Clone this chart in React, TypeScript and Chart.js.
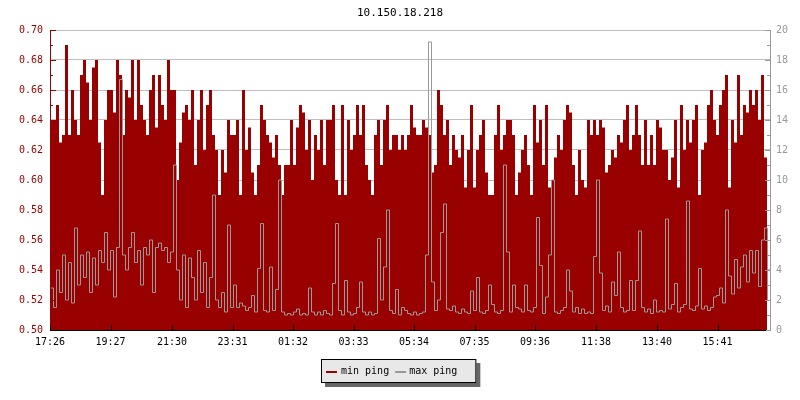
import React, { useEffect, useRef } from "react";
import { Chart, registerables } from "chart.js";

Chart.register(...registerables);

const TITLE = "10.150.18.218";
const SERIES_NAMES = ["min ping", "max ping"];
const SAMPLE_STEP_MIN = 6; // one reading every 6 minutes
const X_SPAN_MIN = 1440;

const xTickMinutes = [0, 121, 244, 365, 486, 607, 728, 849, 970, 1092, 1214, 1335];
const xTickLabels = ["17:26", "19:27", "21:30", "23:31", "01:32", "03:33", "05:34", "07:35", "09:36", "11:38", "13:40", "15:41"];

// min ping (left axis, seconds-ish units as shown)
const minPing = [
  0.64, 0.64, 0.65, 0.625, 0.63, 0.69, 0.63, 0.66, 0.64, 0.63,
  0.67, 0.68, 0.665, 0.64, 0.675, 0.68, 0.625, 0.59, 0.64, 0.66,
  0.66, 0.645, 0.68, 0.67, 0.63, 0.66, 0.655, 0.68, 0.64, 0.68,
  0.65, 0.64, 0.63, 0.66, 0.67, 0.635, 0.67, 0.65, 0.64, 0.68,
  0.66, 0.66, 0.60, 0.625, 0.645, 0.65, 0.64, 0.66, 0.61, 0.64,
  0.66, 0.62, 0.65, 0.66, 0.63, 0.62, 0.59, 0.62, 0.605, 0.64,
  0.63, 0.63, 0.64, 0.59, 0.66, 0.62, 0.635, 0.605, 0.59, 0.61,
  0.65, 0.64, 0.63, 0.625, 0.615, 0.63, 0.61, 0.59, 0.61, 0.61,
  0.64, 0.61, 0.635, 0.65, 0.645, 0.62, 0.64, 0.60, 0.63, 0.62,
  0.64, 0.61, 0.64, 0.64, 0.65, 0.60, 0.59, 0.65, 0.59, 0.64,
  0.62, 0.63, 0.65, 0.63, 0.65, 0.61, 0.60, 0.59, 0.63, 0.64,
  0.61, 0.64, 0.65, 0.62, 0.63, 0.63, 0.62, 0.63, 0.62, 0.63,
  0.65, 0.635, 0.63, 0.63, 0.64, 0.635, 0.63, 0.605, 0.61, 0.66,
  0.65, 0.63, 0.64, 0.61, 0.63, 0.62, 0.615, 0.63, 0.595, 0.62,
  0.65, 0.595, 0.62, 0.63, 0.64, 0.605, 0.59, 0.59, 0.63, 0.65,
  0.62, 0.63, 0.64, 0.64, 0.63, 0.59, 0.605, 0.62, 0.63, 0.61,
  0.59, 0.65, 0.625, 0.64, 0.61, 0.65, 0.595, 0.60, 0.615, 0.63,
  0.62, 0.64, 0.65, 0.645, 0.61, 0.59, 0.62, 0.60, 0.595, 0.64,
  0.63, 0.64, 0.63, 0.64, 0.635, 0.605, 0.61, 0.62, 0.615, 0.63,
  0.625, 0.64, 0.65, 0.62, 0.63, 0.65, 0.63, 0.61, 0.64, 0.61,
  0.63, 0.61, 0.64, 0.635, 0.62, 0.62, 0.60, 0.615, 0.64, 0.595,
  0.65, 0.62, 0.64, 0.625, 0.64, 0.65, 0.59, 0.62, 0.625, 0.65,
  0.66, 0.64, 0.63, 0.65, 0.66, 0.67, 0.595, 0.64, 0.625, 0.67,
  0.63, 0.65, 0.645, 0.66, 0.65, 0.66, 0.64, 0.67, 0.615, 0.62,
];

// max ping (right axis)
const maxPing = [
  2.8, 1.5, 4, 2.5, 5, 2, 4.5, 1.8, 6.8, 3,
  5, 3.5, 5.2, 2.5, 4.8, 3, 5.3, 4.5, 6.5, 4,
  5.3, 2.2, 5.5, 16.7, 5, 4, 5.5, 6.5, 4.5, 5.3,
  3, 5.5, 5, 6, 2.5, 5.5, 5.8, 5.3, 5.5, 4.5,
  5.2, 11, 4, 2, 5, 1.5, 4.8, 3.5, 2, 5.3,
  2.5, 4.5, 1.5, 3.5, 9, 2, 1.5, 2.5, 1.2, 7,
  1.5, 3, 1.5, 1.8, 1.6, 1.3, 1.5, 2.3, 1.2, 4.1,
  7.1, 1.3, 1.2, 4.2, 1.3, 2.7, 10, 1.2, 1, 1.1,
  1, 1.2, 1.4, 1, 1.1, 1, 2.8, 1.2, 1, 1.2,
  1, 1.3, 1.1, 1, 3.1, 7.1, 1.3, 1, 3.3, 1.2,
  1, 1.1, 1.5, 3.2, 1.2, 1, 1.2, 1, 1.1, 6.1,
  2, 4.2, 8, 1.3, 1.1, 2.7, 1, 1.5, 1.3, 1.1,
  1, 1.2, 1, 1.1, 1.2, 5, 19.2, 3.2, 1.3, 2,
  6.5, 8.4, 1.4, 1.3, 1.6, 1.2, 1.1, 1.4, 1.2, 1.1,
  2.6, 1.3, 3.5, 1.2, 1.1, 1.3, 3, 1.7, 1.2, 1.1,
  1.3, 11, 5.2, 1.2, 3, 1.5, 1.4, 1.2, 3, 1.3,
  1.2, 1.5, 7.5, 4.3, 1.1, 2.2, 5, 10, 1.2, 1.1,
  1.3, 1.5, 4, 2.6, 1.2, 1.5, 1.1, 1.4, 1.1, 1.2,
  1.1, 4.9, 10, 3.8, 1.3, 1.6, 1.2, 3.2, 2.3, 5.2,
  1.5, 1.2, 1.3, 3.3, 1.3, 3.3, 6.6, 1.5, 1.2, 1.4,
  1.1, 2, 1.2, 1.3, 1.2, 7.4, 1.4, 1.7, 3.1, 1.2,
  1.5, 1.7, 8.6, 1.4, 1.3, 1.6, 4.1, 1.4, 1.6, 1.3,
  1.5, 2.2, 2.3, 2.8, 1.8, 8, 3.6, 2.4, 4.7, 2.8,
  4.2, 5, 3.2, 5.3, 3.8, 5.3, 2.9, 6, 6.8, 2,
];

const RED = "#990000";
const GREY = "#999999";
const GRID = "#bebebe";
const FONT = "'DejaVu Sans Mono', monospace";

const toPoints = (vals: number[]) => vals.map((v, i) => ({ x: i * SAMPLE_STEP_MIN, y: v }));

const decorPlugin = {
  id: "rrdDecor",
  beforeDatasetDraw(chart: any, args: any) {
    if (args.index === 1) {
      chart.ctx.save();
      chart.ctx.translate(0.5, 0);
    }
  },
  afterDatasetDraw(chart: any, args: any) {
    if (args.index === 1) chart.ctx.restore();
  },
  afterDatasetsDraw(chart: any) {
    const { ctx, chartArea } = chart;
    const { left, right, top, bottom } = chartArea;
    const sy = chart.scales.y;
    const sy2 = chart.scales.y2;
    const sx = chart.scales.x;
    ctx.save();
    ctx.lineWidth = 1;
    // left axis ticks (inward)
    ctx.strokeStyle = RED;
    const lt = sy.ticks.map((t: any) => t.value);
    lt.forEach((v: number, i: number) => {
      const y = Math.round(sy.getPixelForValue(v)) + 0.5;
      ctx.beginPath();
      ctx.moveTo(left, y);
      ctx.lineTo(left + 6, y);
      ctx.stroke();
      if (i < lt.length - 1) {
        const ym = Math.round(sy.getPixelForValue((v + lt[i + 1]) / 2)) + 0.5;
        ctx.beginPath();
        ctx.moveTo(left, ym);
        ctx.lineTo(left + 3, ym);
        ctx.stroke();
      }
    });
    ctx.beginPath();
    ctx.moveTo(left + 0.5, top);
    ctx.lineTo(left + 0.5, bottom + 1);
    ctx.stroke();
    // right axis ticks
    ctx.strokeStyle = GREY;
    const rt = sy2.ticks.map((t: any) => t.value);
    rt.forEach((v: number, i: number) => {
      const y = Math.round(sy2.getPixelForValue(v)) + 0.5;
      ctx.beginPath();
      ctx.moveTo(right - 5, y);
      ctx.lineTo(right + 1, y);
      ctx.stroke();
      if (i < rt.length - 1) {
        const ym = Math.round(sy2.getPixelForValue((v + rt[i + 1]) / 2)) + 0.5;
        ctx.beginPath();
        ctx.moveTo(right - 3, ym);
        ctx.lineTo(right + 1, ym);
        ctx.stroke();
      }
    });
    ctx.beginPath();
    ctx.moveTo(right + 0.5, top);
    ctx.lineTo(right + 0.5, bottom + 1);
    ctx.stroke();
    // x axis
    ctx.strokeStyle = "#000";
    ctx.beginPath();
    ctx.moveTo(left, bottom + 0.5);
    ctx.lineTo(right - 4, bottom + 0.5);
    ctx.stroke();
    sx.ticks.forEach((t: any) => {
      const x = Math.round(sx.getPixelForValue(t.value)) + 0.5;
      ctx.beginPath();
      ctx.moveTo(x, bottom - 5);
      ctx.lineTo(x, bottom + 1);
      ctx.stroke();
    });
    ctx.restore();
  },
  afterDraw(chart: any) {
    const ctx = chart.ctx;
    ctx.save();
    // title
    ctx.fillStyle = "#000";
    ctx.font = `11px ${FONT}`;
    ctx.textAlign = "center";
    ctx.textBaseline = "middle";
    ctx.fillText(TITLE, 400, 13);
    // legend
    ctx.font = `10px ${FONT}`;
    const w1 = ctx.measureText(SERIES_NAMES[0]).width;
    const w2 = ctx.measureText(SERIES_NAMES[1]).width;
    const boxW = 4 + 11 + 4 + w1 + 6 + 11 + 4 + w2 + 19;
    const boxH = 24;
    const bx = Math.round(399 - boxW / 2);
    const by = 359;
    ctx.fillStyle = "#666666";
    ctx.fillRect(bx + 4, by + 4, boxW, boxH);
    ctx.fillStyle = "#e8e8e8";
    ctx.fillRect(bx, by, boxW, boxH);
    ctx.strokeStyle = "#000";
    ctx.lineWidth = 1;
    ctx.strokeRect(bx + 0.5, by + 0.5, boxW - 1, boxH - 1);
    let cx = bx + 5;
    const cy = by + 12;
    ctx.fillStyle = RED;
    ctx.fillRect(cx, cy, 11, 2);
    cx += 15;
    ctx.fillStyle = "#000";
    ctx.textAlign = "left";
    ctx.textBaseline = "middle";
    ctx.fillText(SERIES_NAMES[0], cx, cy);
    cx += w1 + 6;
    ctx.fillStyle = GREY;
    ctx.fillRect(cx, cy, 11, 2);
    cx += 14;
    ctx.fillStyle = "#000";
    ctx.fillText(SERIES_NAMES[1], cx, cy);
    ctx.restore();
  },
};

export default function App() {
  const ref = useRef<HTMLCanvasElement | null>(null);
  useEffect(() => {
    if (!ref.current) return;
    const chart = new Chart(ref.current, {
      type: "line",
      data: {
        datasets: [
          {
            label: SERIES_NAMES[0],
            data: toPoints(minPing),
            yAxisID: "y",
            stepped: true,
            fill: "start",
            backgroundColor: RED,
            borderColor: RED,
            borderWidth: 0,
            pointRadius: 0,
            order: 2,
          },
          {
            label: SERIES_NAMES[1],
            data: toPoints(maxPing),
            yAxisID: "y2",
            stepped: true,
            fill: false,
            borderColor: GREY,
            borderWidth: 1,
            pointRadius: 0,
            order: 1,
          },
        ],
      },
      options: {
        responsive: false,
        animation: false,
        events: [],
        layout: { padding: { top: 30, left: 0, right: 0, bottom: 0 } },
        plugins: {
          legend: { display: false },
          title: { display: false },
          tooltip: { enabled: false },
        },
        scales: {
          x: {
            type: "linear",
            min: 0,
            max: X_SPAN_MIN,
            afterBuildTicks: (scale: any) => {
              scale.ticks = xTickMinutes.map((v) => ({ value: v }));
            },
            afterFit: (scale: any) => {
              scale.height = 70;
            },
            grid: { drawOnChartArea: false, drawTicks: false },
            border: { display: false },
            ticks: {
              autoSkip: false,
              maxRotation: 0,
              padding: 6,
              color: "#000",
              font: { family: FONT, size: 10 },
              callback: (_v: any, i: number) => xTickLabels[i],
            },
          },
          y: {
            position: "left",
            min: 0.5,
            max: 0.7,
            afterFit: (scale: any) => {
              scale.width = 50;
            },
            grid: { color: GRID, drawTicks: false },
            border: { display: false },
            ticks: {
              stepSize: 0.02,
              padding: 7,
              color: RED,
              font: { family: FONT, size: 10 },
              callback: (v: any) => Number(v).toFixed(2),
            },
          },
          y2: {
            position: "right",
            min: 0,
            max: 20,
            afterFit: (scale: any) => {
              scale.width = 30;
            },
            grid: { drawOnChartArea: false, drawTicks: false },
            border: { display: false },
            ticks: {
              stepSize: 2,
              padding: 6,
              color: GREY,
              font: { family: FONT, size: 10 },
              callback: (v: any) => String(v),
            },
          },
        },
      },
      plugins: [decorPlugin],
    });
    return () => chart.destroy();
  }, []);
  return (
    <div style={{ position: "absolute", left: 0, top: 0, width: 800, height: 400, background: "#fff" }}>
      <canvas ref={ref} width={800} height={400} />
    </div>
  );
}
